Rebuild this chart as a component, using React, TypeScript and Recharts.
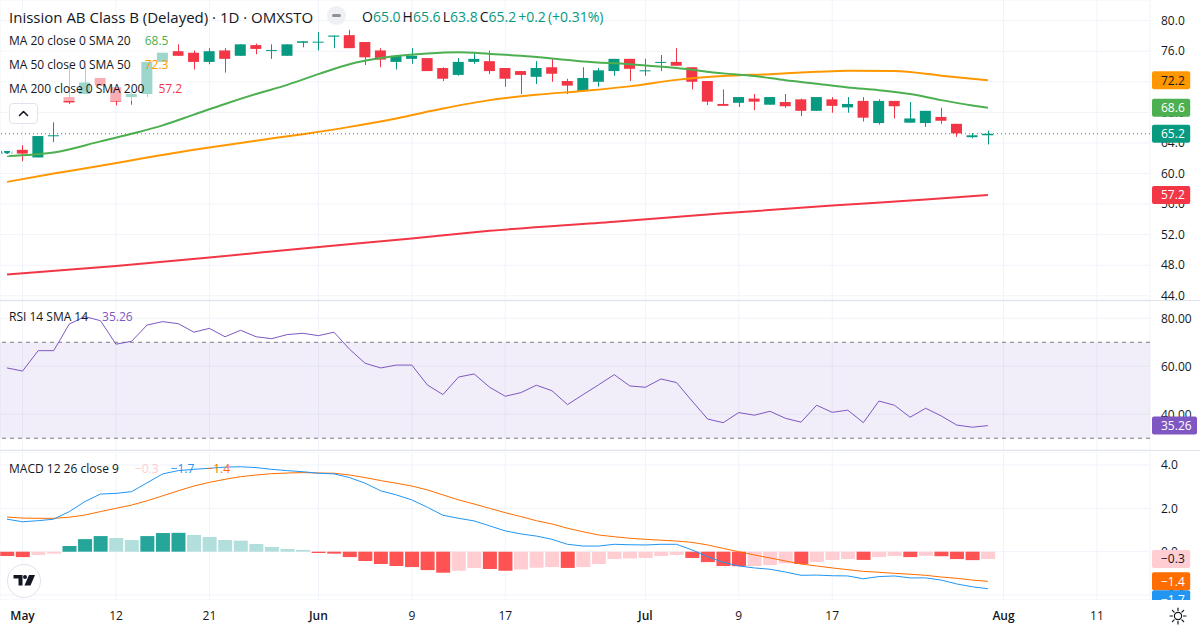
import React from 'react';
import {
  ComposedChart, Bar, Line, XAxis, YAxis, CartesianGrid,
  ReferenceLine, ReferenceArea, Cell,
} from 'recharts';

const FONT = '"Open Sans", Roboto, sans-serif';
const UP = '#089981';
const DOWN = '#F23645';
const GRID = '#F0F3FA';
const TEXT = '#131722';

// ---- candles (daily) ----
const opens = [62.6, 63.1, 62.1, 64.9, 70.0, 70.4, 72.5, 71.3, 70.0, 70.4, 74.6, 76.0, 75.8, 74.6, 76.1, 75.4, 76.8, 76.05, 75.4, 77.1, 77.15, 77.9, 78.1, 77.2, 76.1, 74.6, 75.0, 75.1, 73.8, 72.9, 74.6, 74.7, 73.8, 73.4, 72.65, 73.9, 72.1, 70.8, 72.0, 73.4, 75.0, 73.4, 74.5, 74.6, 73.9, 72.1, 69.1, 69.25, 69.8, 69.0, 69.35, 69.7, 68.2, 69.7, 68.65, 69.5, 66.6, 69.5, 66.65, 66.6, 67.4, 66.5, 64.75, 65.0];
const highs = [62.95, 63.7, 64.9, 66.7, 74.0, 74.0, 72.5, 71.3, 70.6, 74.6, 75.8, 76.9, 76.1, 76.4, 76.4, 76.9, 77.0, 76.9, 76.9, 77.3, 78.5, 78.05, 78.8, 77.2, 76.4, 75.5, 76.4, 75.1, 73.9, 75.1, 75.75, 76.1, 73.8, 73.4, 74.7, 75.1, 72.4, 73.9, 73.8, 75.0, 75.0, 75.0, 75.5, 76.4, 73.9, 72.1, 71.0, 70.0, 70.4, 70.0, 70.4, 69.8, 70.0, 70.0, 70.0, 70.0, 69.7, 69.5, 69.35, 68.2, 68.6, 66.5, 65.3, 65.6];
const lows = [62.3, 61.6, 62.1, 64.1, 69.1, 70.4, 71.5, 68.9, 69.0, 70.0, 74.6, 75.4, 73.6, 74.3, 73.2, 75.4, 75.6, 75.0, 75.4, 76.5, 76.1, 76.4, 76.4, 74.2, 73.9, 73.6, 74.35, 73.4, 72.1, 72.8, 74.35, 73.0, 71.35, 70.4, 71.7, 72.0, 70.4, 70.8, 71.35, 72.8, 72.1, 72.8, 73.4, 74.1, 71.0, 68.95, 68.85, 68.7, 68.3, 69.0, 68.6, 67.5, 68.2, 67.95, 67.95, 66.8, 66.4, 67.2, 66.65, 66.1, 66.5, 64.8, 64.6, 63.8];
const closes = [62.95, 62.6, 64.9, 65.0, 69.3, 71.9, 71.5, 69.4, 70.4, 74.6, 75.8, 75.4, 74.6, 76.0, 75.0, 76.9, 76.3, 76.15, 76.9, 77.3, 77.25, 78.05, 76.4, 75.2, 74.9, 75.4, 75.4, 73.4, 72.4, 74.6, 75.0, 73.4, 72.4, 72.9, 73.8, 73.05, 71.5, 72.5, 73.5, 75.0, 73.7, 73.5, 74.6, 74.1, 72.0, 69.4, 68.85, 70.0, 69.4, 70.0, 68.8, 68.2, 70.0, 68.85, 69.1, 67.3, 69.5, 68.8, 67.2, 68.2, 66.9, 65.25, 65.0, 65.2];

// ---- moving averages, read at sampled bars [barIndex, value] ----
const ma20Points: [number, number][] = [[0, 62.3], [3, 62.75], [6, 64.2], [8, 65.2], [10, 66.3], [12, 67.7], [14, 69.1], [16, 70.4], [18, 71.6], [20, 73.0], [22, 74.3], [24, 75.1], [27, 75.7], [29, 75.85], [31, 75.65], [33, 75.4], [35, 75.05], [37, 74.65], [40, 74.3], [43, 73.8], [46, 73.1], [48, 72.75], [50, 72.2], [52, 71.75], [54, 71.25], [56, 70.9], [58, 70.4], [60, 69.6], [62, 68.9], [63, 68.6]];
const ma50Points: [number, number][] = [[0, 58.9], [3, 60.0], [6, 61.0], [9, 62.1], [12, 63.1], [16, 64.3], [19, 65.15], [22, 66.1], [25, 67.2], [28, 68.5], [31, 69.6], [34, 70.3], [37, 70.8], [40, 71.4], [43, 72.25], [46, 72.75], [49, 73.0], [52, 73.3], [54, 73.45], [57, 73.4], [60, 72.8], [63, 72.2]];
const ma200Points: [number, number][] = [[0, 46.8], [7, 47.9], [13, 49.0], [19, 50.2], [26, 51.5], [31, 52.5], [39, 53.7], [46, 54.8], [53, 55.8], [59, 56.6], [63, 57.2]];

// ---- RSI 14 ----
const rsiValues = [59.3, 58.0, 66.5, 66.5, 77.6, 80.7, 79.0, 69.2, 70.4, 77.2, 78.6, 77.75, 74.2, 75.8, 72.3, 75.0, 72.3, 71.5, 73.2, 73.75, 72.75, 74.2, 67.1, 61.25, 59.3, 60.5, 60.5, 52.2, 48.2, 55.5, 56.8, 51.25, 47.5, 49.0, 52.1, 49.8, 44.0, 48.2, 52.3, 56.5, 51.8, 51.25, 54.7, 53.2, 45.5, 38.0, 36.5, 40.7, 39.6, 41.25, 38.3, 36.7, 43.75, 40.8, 41.7, 36.5, 45.5, 43.75, 38.75, 42.5, 39.3, 35.5, 34.6, 35.26];

// ---- MACD 12 26 9 ----
const macdValues = [1.50, 1.38, 1.43, 1.50, 1.85, 2.31, 2.66, 2.69, 2.77, 3.18, 3.59, 3.74, 3.80, 3.85, 3.90, 3.92, 3.88, 3.80, 3.74, 3.69, 3.62, 3.59, 3.42, 3.16, 2.81, 2.62, 2.39, 2.05, 1.68, 1.54, 1.42, 1.19, 0.96, 0.82, 0.72, 0.57, 0.34, 0.26, 0.26, 0.34, 0.32, 0.31, 0.34, 0.34, 0.08, -0.23, -0.49, -0.66, -0.75, -0.81, -0.94, -1.09, -1.08, -1.11, -1.12, -1.25, -1.15, -1.12, -1.21, -1.21, -1.31, -1.49, -1.62, -1.71];
const signalValues = [1.60, 1.55, 1.54, 1.54, 1.59, 1.69, 1.85, 2.00, 2.15, 2.35, 2.58, 2.81, 3.03, 3.20, 3.34, 3.46, 3.54, 3.60, 3.63, 3.65, 3.63, 3.62, 3.54, 3.42, 3.28, 3.16, 3.03, 2.85, 2.62, 2.39, 2.20, 2.00, 1.80, 1.62, 1.43, 1.28, 1.08, 0.92, 0.77, 0.69, 0.62, 0.57, 0.53, 0.49, 0.43, 0.31, 0.15, 0.0, -0.15, -0.29, -0.43, -0.57, -0.66, -0.75, -0.83, -0.91, -0.95, -1.0, -1.04, -1.09, -1.17, -1.23, -1.31, -1.37];
const histValues = [-0.20, -0.25, -0.15, -0.09, 0.26, 0.58, 0.72, 0.63, 0.54, 0.72, 0.86, 0.87, 0.77, 0.68, 0.54, 0.51, 0.35, 0.22, 0.12, 0.08, -0.06, -0.09, -0.25, -0.43, -0.57, -0.66, -0.71, -0.85, -0.97, -0.88, -0.75, -0.80, -0.88, -0.82, -0.74, -0.71, -0.75, -0.71, -0.57, -0.34, -0.31, -0.29, -0.20, -0.15, -0.29, -0.48, -0.66, -0.67, -0.66, -0.62, -0.54, -0.57, -0.48, -0.38, -0.34, -0.38, -0.25, -0.20, -0.25, -0.19, -0.21, -0.34, -0.39, -0.34];

// ---- axes ----
const dateTickIndex = [1, 7, 13, 20, 26, 32, 41, 47, 53, 64, 70];
const dateTickLabels = ['May', '12', '21', 'Jun', '9', '17', 'Jul', '9', '17', 'Aug', '11'];
const priceTicks = [44, 48, 52, 56, 60, 64, 68, 72, 76, 80];
const rsiTicks = [40, 60, 80];
const macdTicks = [-2, 0, 2, 4];
const legendMA = ['68.5', '72.3', '57.2'];

const X_DOMAIN: [number, number] = [-0.45, 73.41];
const PRICE_DOMAIN: [number, number] = [43.45, 82.7];
const RSI_DOMAIN: [number, number] = [25.1, 87.2];
const MACD_DOMAIN: [number, number] = [-2.23, 4.6];

const rows = opens.map((o, i) => ({
  i,
  o,
  h: highs[i],
  l: lows[i],
  c: closes[i],
  range: [lows[i], highs[i]],
  rsi: rsiValues[i],
  macd: macdValues[i],
  signal: signalValues[i],
  hist: histValues[i],
}));
const ma20Data = ma20Points.map(([i, v]) => ({ i, v }));
const ma50Data = ma50Points.map(([i, v]) => ({ i, v }));
const ma200Data = ma200Points.map(([i, v]) => ({ i, v }));

const histColor = (i: number) => {
  const v = histValues[i];
  const prev = i > 0 ? histValues[i - 1] : undefined;
  if (v >= 0) return prev === undefined || v >= prev ? '#26A69A' : '#B2DFDB';
  return prev === undefined || v < prev ? '#FF5252' : '#FFCDD2';
};

const Candle = (props: any) => {
  const { x, y, width, height, payload } = props;
  if (!payload || x == null || y == null) return null;
  const { o, h, l, c } = payload;
  const color = c >= o ? UP : DOWN;
  const ratio = h - l > 0 ? height / (h - l) : 0;
  const yOf = (v: number) => y + (h - v) * ratio;
  const top = yOf(Math.max(o, c));
  const bot = yOf(Math.min(o, c));
  const cx = Math.round(x + width / 2) + 0.5;
  return (
    <g>
      <line x1={cx} x2={cx} y1={y} y2={y + height} stroke={color} strokeWidth={1} />
      <rect x={x} y={top} width={width} height={Math.max(1, bot - top)} fill={color} />
    </g>
  );
};

const makeTag = (text: string, bg: string, fg: string, dy = 0) => (props: any) => {
  const vb = props.viewBox || {};
  const left = (vb.x ?? 0) + (vb.width ?? 1150) + 2;
  const cy = (vb.y ?? 0) + dy;
  const w = 11 + text.length * 6.8;
  return (
    <g>
      <rect x={left} y={cy - 9} width={w} height={18} rx={2} fill={bg} />
      <text x={left + 9} y={cy} dy="0.36em" fontSize={12} fill={fg} fontFamily={FONT}>{text}</text>
    </g>
  );
};

const fmtMinus = (v: number, d: number) => (v < 0 ? '\u2212' + Math.abs(v).toFixed(d) : v.toFixed(d));

const DateTick = (p: any) => {
  const idx = dateTickIndex.indexOf(p.payload?.value);
  const label = idx >= 0 ? dateTickLabels[idx] : '';
  const isMonth = /[A-Za-z]/.test(label);
  return (
    <text x={p.x} y={p.y} dy="0.71em" textAnchor="middle" fontSize={12} fontFamily={FONT}
      fontWeight={isMonth ? 600 : 400} fill={TEXT}>{label}</text>
  );
};

const yTick = { fontSize: 12, fill: TEXT, fontFamily: FONT };
const M0 = { top: 0, right: 0, bottom: 0, left: 0 };

const last = rows.length - 1;
const lastClose = closes[last];
const prevClose = closes[last - 1];
const chg = lastClose - prevClose;
const chgPct = (chg / prevClose) * 100;
const lastMa20 = ma20Points[ma20Points.length - 1][1];
const lastMa50 = ma50Points[ma50Points.length - 1][1];
const lastMa200 = ma200Points[ma200Points.length - 1][1];

// overlay chart that carries the last-value tags above the axis labels
const TagLayer = ({ height, domain, children }: { height: number; domain: [number, number]; children: React.ReactNode }) => (
  <ComposedChart width={1200} height={height} data={rows} margin={M0}>
    <XAxis dataKey="i" type="number" domain={X_DOMAIN} hide allowDataOverflow />
    <YAxis orientation="right" width={50} domain={domain} allowDataOverflow tick={false} axisLine={false} tickLine={false} />
    <Line dataKey="c" stroke="none" dot={false} isAnimationActive={false} />
    {children}
  </ComposedChart>
);

export default function App() {
  const abs = (top: number): React.CSSProperties => ({ position: 'absolute', left: 0, top });
  const legendRow = (top: number): React.CSSProperties => ({
    position: 'absolute', left: 4, top, height: 24, lineHeight: '24px', padding: '0 5px',
    background: 'rgba(255,255,255,0.6)', fontSize: 12, color: TEXT, whiteSpace: 'nowrap',
  });
  return (
    <div style={{ position: 'absolute', left: 0, top: 0, width: 1200, height: 630, background: '#fff', overflow: 'hidden', fontFamily: FONT }}>
      {/* price pane */}
      <div style={abs(0)}>
        <ComposedChart width={1200} height={300} data={rows} margin={M0}>
          <CartesianGrid stroke={GRID} />
          <XAxis dataKey="i" type="number" domain={X_DOMAIN} ticks={dateTickIndex} hide allowDataOverflow />
          <YAxis orientation="right" width={50} domain={PRICE_DOMAIN} ticks={priceTicks} allowDataOverflow
            axisLine={false} tickLine={false} tickSize={6} tickMargin={5} tick={yTick} interval={0}
            tickFormatter={(v: number) => v.toFixed(1)} />
          <Bar dataKey="range" barSize={11} shape={Candle} isAnimationActive={false} />
          <Line data={ma200Data} dataKey="v" type="monotone" stroke="#F23645" strokeWidth={2} dot={false} isAnimationActive={false} />
          <Line data={ma50Data} dataKey="v" type="monotone" stroke="#FF9800" strokeWidth={2} dot={false} isAnimationActive={false} />
          <Line data={ma20Data} dataKey="v" type="monotone" stroke="#4CAF50" strokeWidth={2} dot={false} isAnimationActive={false} />
          <ReferenceLine y={lastClose} stroke={UP} strokeDasharray="1 3" />
        </ComposedChart>
      </div>
      <div style={abs(0)}>
        <TagLayer height={300} domain={PRICE_DOMAIN}>
          <ReferenceLine y={lastClose} stroke="none" label={makeTag(lastClose.toFixed(1), UP, '#fff')} />
          <ReferenceLine y={lastMa200} stroke="none" label={makeTag(lastMa200.toFixed(1), '#F23645', '#fff')} />
          <ReferenceLine y={lastMa20} stroke="none" label={makeTag(lastMa20.toFixed(1), '#4CAF50', '#fff')} />
          <ReferenceLine y={lastMa50} stroke="none" label={makeTag(lastMa50.toFixed(1), '#FF9800', TEXT)} />
        </TagLayer>
      </div>
      <div style={{ position: 'absolute', left: 0, top: 300, width: 1200, height: 1, background: '#E0E3EB' }} />

      {/* RSI pane */}
      <div style={abs(301)}>
        <ComposedChart width={1200} height={149} data={rows} margin={M0}>
          <CartesianGrid stroke={GRID} />
          <XAxis dataKey="i" type="number" domain={X_DOMAIN} ticks={dateTickIndex} hide allowDataOverflow />
          <YAxis orientation="right" width={50} domain={RSI_DOMAIN} ticks={rsiTicks} allowDataOverflow
            axisLine={false} tickLine={false} tickSize={6} tickMargin={5} tick={yTick} interval={0}
            tickFormatter={(v: number) => v.toFixed(2)} />
          <ReferenceArea y1={30} y2={70} fill="#7E57C2" fillOpacity={0.1} stroke="none" />
          <ReferenceLine y={70} stroke="#787B86" strokeDasharray="4 4" />
          <ReferenceLine y={30} stroke="#787B86" strokeDasharray="4 4" />
          <Line dataKey="rsi" type="linear" stroke="#7E57C2" strokeWidth={1} dot={false} isAnimationActive={false} />
        </ComposedChart>
      </div>
      <div style={abs(301)}>
        <TagLayer height={149} domain={RSI_DOMAIN}>
          <ReferenceLine y={rsiValues[last]} stroke="none" label={makeTag(rsiValues[last].toFixed(2), '#7E57C2', '#fff')} />
        </TagLayer>
      </div>
      <div style={{ position: 'absolute', left: 0, top: 450, width: 1200, height: 1, background: '#E0E3EB' }} />

      {/* MACD pane */}
      <div style={abs(452)}>
        <ComposedChart width={1200} height={148} data={rows} margin={M0}>
          <CartesianGrid stroke={GRID} />
          <XAxis dataKey="i" type="number" domain={X_DOMAIN} ticks={dateTickIndex} hide allowDataOverflow />
          <YAxis orientation="right" width={50} domain={MACD_DOMAIN} ticks={macdTicks} allowDataOverflow
            axisLine={false} tickLine={false} tickSize={6} tickMargin={5} tick={yTick} interval={0}
            tickFormatter={(v: number) => fmtMinus(v, 1)} />
          <Bar dataKey="hist" barSize={14} isAnimationActive={false}>
            {rows.map((r) => <Cell key={r.i} fill={histColor(r.i)} />)}
          </Bar>
          <Line dataKey="signal" type="linear" stroke="#FF6D00" strokeWidth={1} dot={false} isAnimationActive={false} />
          <Line dataKey="macd" type="linear" stroke="#2196F3" strokeWidth={1} dot={false} isAnimationActive={false} />
        </ComposedChart>
      </div>
      <div style={abs(452)}>
        <TagLayer height={148} domain={MACD_DOMAIN}>
          <ReferenceLine y={histValues[last]} stroke="none" label={makeTag(fmtMinus(histValues[last], 1), '#FFCDD2', TEXT)} />
          <ReferenceLine y={signalValues[last]} stroke="none" label={makeTag(fmtMinus(signalValues[last], 1), '#FF6D00', '#fff')} />
          <ReferenceLine y={macdValues[last]} stroke="none" label={makeTag(fmtMinus(macdValues[last], 1), '#2196F3', '#fff', 10.5)} />
        </TagLayer>
      </div>

      {/* time axis */}
      <div style={{ position: 'absolute', left: 0, top: 600, width: 1200, height: 30, background: '#fff' }} />
      <div style={abs(570)}>
        <ComposedChart width={1200} height={60} data={rows} margin={{ top: 0, right: 50, bottom: 0, left: 0 }}>
          <XAxis dataKey="i" type="number" domain={X_DOMAIN} ticks={dateTickIndex} allowDataOverflow interval={0}
            height={30} axisLine={false} tickLine={false} tickSize={6} tickMargin={5} tick={DateTick} />
          <YAxis hide />
          <Line dataKey="c" stroke="none" dot={false} isAnimationActive={false} />
        </ComposedChart>
      </div>
      <svg style={{ position: 'absolute', left: 1168, top: 606 }} width={20} height={20}>
        <circle cx={10} cy={10} r={3.6} fill="none" stroke={TEXT} strokeWidth={1.2} />
        {[0, 45, 90, 135, 180, 225, 270, 315].map((a) => {
          const r = (a * Math.PI) / 180;
          return <line key={a} x1={10 + Math.cos(r) * 5.5} y1={10 + Math.sin(r) * 5.5} x2={10 + Math.cos(r) * 8} y2={10 + Math.sin(r) * 8} stroke={TEXT} strokeWidth={1.2} strokeLinecap="round" />;
        })}
      </svg>

      {/* legends */}
      <div style={{ position: 'absolute', left: 9, top: 6, height: 22, lineHeight: '22px', fontSize: 15, color: TEXT, whiteSpace: 'nowrap' }}>
        Inission AB Class B (Delayed) · 1D · OMXSTO
      </div>
      <div style={{ position: 'absolute', left: 327, top: 6, width: 19, height: 19, borderRadius: 10, background: '#EEF0F4' }}>
        <div style={{ position: 'absolute', left: 5, top: 8, width: 9, height: 3, borderRadius: 2, background: '#8E919B' }} />
      </div>
      <div style={{ position: 'absolute', left: 362, top: 6, height: 22, lineHeight: '22px', fontSize: 14, color: TEXT, whiteSpace: 'nowrap' }}>
        O<span style={{ color: UP }}>{opens[last].toFixed(1)}</span>
        <span style={{ marginLeft: 2 }}>H</span><span style={{ color: UP }}>{highs[last].toFixed(1)}</span>
        <span style={{ marginLeft: 2 }}>L</span><span style={{ color: UP }}>{lows[last].toFixed(1)}</span>
        <span style={{ marginLeft: 2 }}>C</span><span style={{ color: UP }}>{lastClose.toFixed(1)}</span>
        <span style={{ color: UP, marginLeft: 2 }}>{(chg >= 0 ? '+' : '\u2212') + Math.abs(chg).toFixed(1)}</span>
        <span style={{ color: UP, marginLeft: 2 }}>({(chgPct >= 0 ? '+' : '\u2212') + Math.abs(chgPct).toFixed(2)}%)</span>
      </div>
      <div style={legendRow(28.5)}>MA 20 close 0 SMA 20<span style={{ color: '#4CAF50', marginLeft: 14 }}>{legendMA[0]}</span></div>
      <div style={legendRow(52.5)}>MA 50 close 0 SMA 50<span style={{ color: '#FF9800', marginLeft: 14 }}>{legendMA[1]}</span></div>
      <div style={legendRow(76.5)}>MA 200 close 0 SMA 200<span style={{ color: '#F23645', marginLeft: 14 }}>{legendMA[2]}</span></div>
      <div style={{ position: 'absolute', left: 9, top: 103, width: 27, height: 19, border: '1px solid #E0E3EB', borderRadius: 4, background: '#fff' }}>
        <svg width={27} height={19} style={{ position: 'absolute', left: 0, top: 0 }}>
          <path d="M9.5 11.5 L13.5 7.5 L17.5 11.5" fill="none" stroke={TEXT} strokeWidth={1.6} strokeLinecap="round" strokeLinejoin="round" />
        </svg>
      </div>

      <div style={{ position: 'absolute', left: 9, top: 306, height: 22, lineHeight: '22px', fontSize: 12, color: TEXT, whiteSpace: 'nowrap' }}>
        RSI 14 SMA 14<span style={{ color: '#7E57C2', marginLeft: 14 }}>{rsiValues[last].toFixed(2)}</span>
      </div>
      <div style={{ position: 'absolute', left: 9, top: 458, height: 22, lineHeight: '22px', fontSize: 12, color: TEXT, whiteSpace: 'nowrap' }}>
        MACD 12 26 close 9
        <span style={{ color: '#FFCDD2', marginLeft: 16 }}>{fmtMinus(histValues[last], 1)}</span>
        <span style={{ color: '#2196F3', marginLeft: 12 }}>{fmtMinus(macdValues[last], 1)}</span>
        <span style={{ color: '#FF6D00', marginLeft: 12 }}>{fmtMinus(signalValues[last], 1)}</span>
      </div>

      {/* logo */}
      <svg style={{ position: 'absolute', left: 6, top: 563 }} width={36} height={36}>
        <circle cx={18} cy={18} r={16.5} fill="#fff" stroke="#E0E3EB" strokeWidth={1} />
        <path d="M7.5 12 H16.5 V22.5 H12.5 V15.5 H7.5 Z" fill={TEXT} />
        <circle cx={19} cy={14} r={2} fill={TEXT} />
        <path d="M23 12 H29 L24.5 22.5 H18.5 Z" fill={TEXT} />
      </svg>
    </div>
  );
}
